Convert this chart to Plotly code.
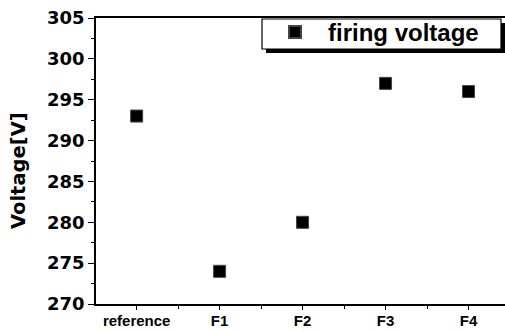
import plotly.graph_objects as go

categories = ["reference", "F1", "F2", "F3", "F4"]
voltage = [293, 274, 280, 297, 296]
y_ticks = [270, 275, 280, 285, 290, 295, 300, 305]
series_name = "firing voltage"

FONT = "Liberation Sans"
YFONT = "DejaVu Sans"
W, H = 505, 331
ML, MR, MT, MB = 96, 0, 18, 27
PW, PH = W - ML - MR, H - MT - MB

x_idx = list(range(len(categories)))

fig = go.Figure()
fig.add_trace(go.Scatter(
    x=x_idx, y=voltage, mode="markers", name="<b>" + series_name + "</b>",
    marker=dict(symbol="square", size=12, color="black",
                line=dict(width=1, color="#444")),
    showlegend=True,
))

def px2paper_x(px):
    return (px - ML) / PW

def px2paper_y(py):
    return (H - MB - py) / PH

# legend box + shadow
lx0, lx1, ly0, ly1 = 262, 501, 19, 49
fig.add_shape(type="rect", xref="paper", yref="paper",
              x0=px2paper_x(lx0 + 4), x1=px2paper_x(lx1 + 4),
              y0=px2paper_y(ly1 + 4), y1=px2paper_y(ly0 + 4),
              fillcolor="black", line=dict(width=0), layer="above")
fig.add_shape(type="rect", xref="paper", yref="paper",
              x0=px2paper_x(lx0), x1=px2paper_x(lx1),
              y0=px2paper_y(ly1), y1=px2paper_y(ly0),
              fillcolor="white", line=dict(width=1.2, color="black"), layer="above")

fig.add_annotation(text="<b>Voltage[V]</b>", xref="paper", yref="paper",
                   x=0, y=px2paper_y(171), xshift=18 - ML, xanchor="center",
                   yanchor="middle", textangle=-90, showarrow=False,
                   font=dict(family=YFONT, size=19.5, color="black", weight="bold"))

fig.update_layout(
    width=W, height=H,
    margin=dict(l=ML, r=MR, t=MT, b=MB, pad=0),
    paper_bgcolor="white", plot_bgcolor="white",
    font=dict(family=FONT, color="black"),
    showlegend=True,
    legend=dict(
        x=px2paper_x(262), y=px2paper_y(10), xanchor="left", yanchor="top",
        bgcolor="rgba(0,0,0,0)", borderwidth=0,
        font=dict(family=FONT, size=24, color="black", weight="bold"),
        itemwidth=56, itemsizing="constant",
    ),
    xaxis=dict(
        range=[-0.49, 4.44], tickvals=x_idx,
        ticktext=["<b>" + c + "</b>" for c in categories],
        showline=True, linecolor="black", linewidth=1.5, mirror=True,
        ticks="outside", ticklen=4, tickwidth=1.2, tickcolor="black",
        showgrid=False, zeroline=False,
        tickfont=dict(family=FONT, size=15, color="black", weight="bold"),
        minor=dict(tickvals=[0.5, 1.5, 2.5, 3.5, 4.5], ticks="outside",
                   ticklen=3, tickwidth=1.2, tickcolor="black", showgrid=False),
    ),
    yaxis=dict(
        range=[270, 305], tickvals=y_ticks,
        ticktext=["<b>%d</b>" % v for v in y_ticks],
        showline=True, linecolor="black", linewidth=1.5, mirror=False,
        ticks="outside", ticklen=6, tickwidth=1.2, tickcolor="black",
        showgrid=False, zeroline=False,
        tickfont=dict(family=YFONT, size=18, color="black", weight="bold"),
        minor=dict(dtick=2.5, ticks="outside", ticklen=3, tickwidth=1.2,
                   tickcolor="black", showgrid=False),
    ),
)

try:
    fig.update_xaxes(ticklabelstandoff=-2)
except Exception:
    pass

fig.write_html("out.html")
